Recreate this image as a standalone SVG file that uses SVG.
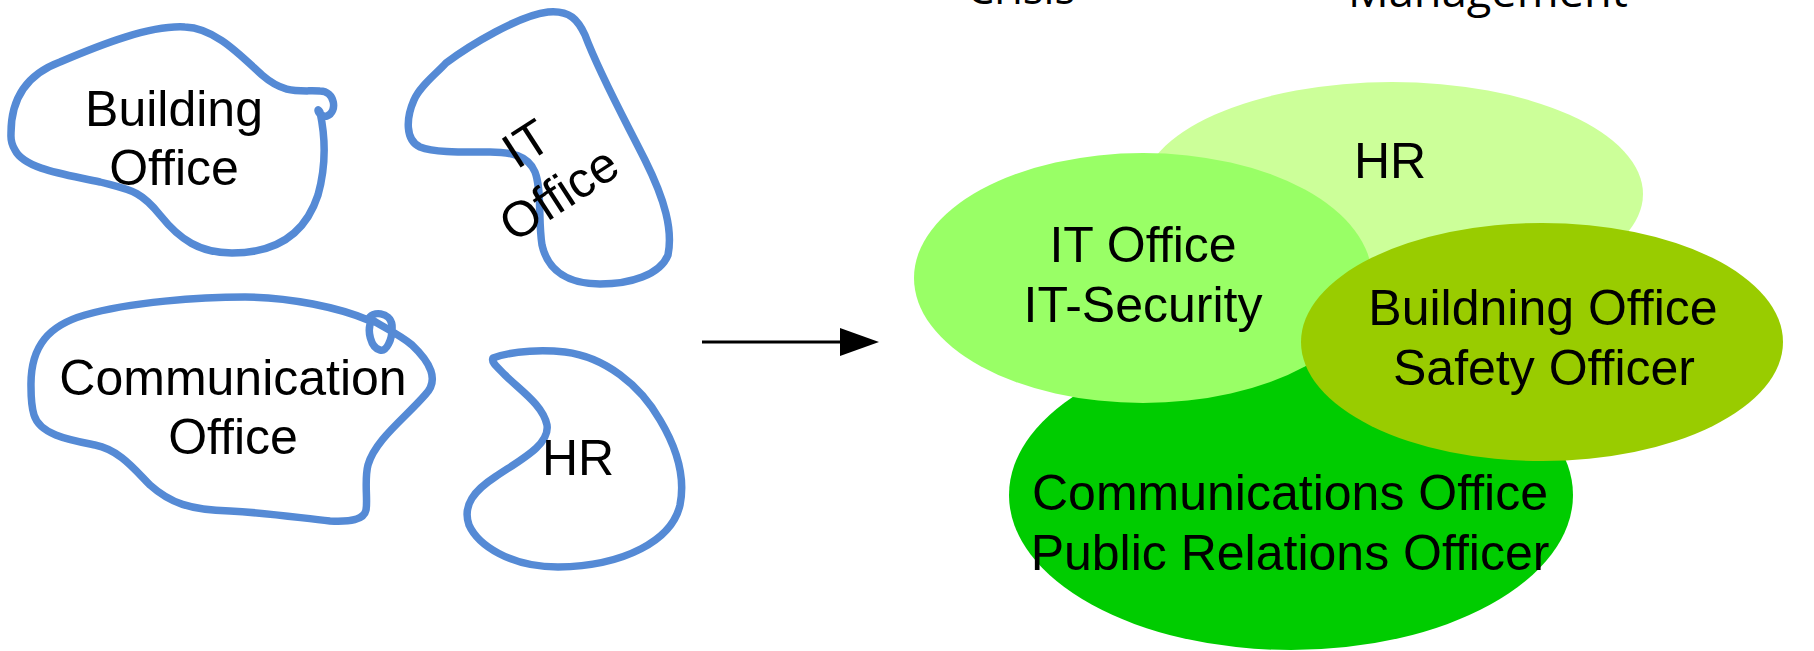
<svg xmlns="http://www.w3.org/2000/svg" width="1814" height="651" viewBox="0 0 1814 651">
<defs>
<style>
.blob{fill:none;stroke:#558AD5;stroke-width:7.5;stroke-linejoin:round;stroke-linecap:round}
.t{font-family:"Liberation Sans",Arial,sans-serif;font-size:50px;fill:#000;text-anchor:middle}
.top{font-family:"Open Sans","DejaVu Sans",sans-serif;font-size:44px;fill:#000}
</style>
<marker id="ah" viewBox="0 0 39 28" refX="0" refY="14" markerWidth="39" markerHeight="28" markerUnits="userSpaceOnUse" orient="auto">
<path d="M0,0 L39,14 L0,28 Z" fill="#000"/>
</marker>
</defs>
<rect width="1814" height="651" fill="#fff"/>

<g id="title">
<text class="top" x="967" y="4" textLength="108" lengthAdjust="spacingAndGlyphs">Crisis</text>
<text class="top" x="1348" y="7" textLength="280" lengthAdjust="spacingAndGlyphs">Management</text>
</g>

<g id="building-office-blob">
<path class="blob" d="M11,133 C11,100 25,75 60,62 C100,45 150,25 185,27 C215,28 240,55 262,75 C285,95 300,90 320,91 C335,91 338,112 327,116 C318,118 316,105 320,112 C326,140 325,170 318,195 C305,235 275,253 232,253 C200,253 180,240 160,215 C140,190 130,190 100,182 C70,175 25,170 15,150 C10,142 11,138 11,133 Z"/>
<text class="t" x="174" y="126">Building</text>
<text class="t" x="174" y="185">Office</text>
</g>

<g id="it-office-blob">
<path class="blob" d="M446,63 C470,45 520,15 548,12 C570,10 578,20 585,35 C600,75 625,120 645,160 C665,200 673,230 668,255 C660,275 630,284 600,284 C570,284 548,272 542,245 C538,220 542,190 535,172 C528,155 510,152 490,152 C465,152 435,153 420,147 C405,140 406,118 414,100 C420,86 435,75 446,63 Z"/>
<g transform="translate(542,168) rotate(-33)">
<text class="t" x="0" y="-12">IT</text>
<text class="t" x="0" y="48">Office</text>
</g>
</g>

<g id="communication-office-blob">
<path class="blob" d="M31,387 C30,345 50,325 85,315 C130,302 200,297 245,297 C290,297 340,308 368,320 C372,310 390,312 392,325 C393,340 386,352 380,350 C371,348 366,330 372,320 C385,328 400,335 412,345 C430,362 440,380 425,395 C405,418 375,440 368,465 C364,480 368,500 366,510 C364,520 350,522 330,521 C300,518 270,513 230,511 C190,510 170,503 150,485 C135,470 120,450 95,445 C70,440 40,435 34,415 C31,405 31,395 31,387 Z"/>
<text class="t" x="233" y="395">Communication</text>
<text class="t" x="233" y="454">Office</text>
</g>

<g id="hr-blob">
<path class="blob" d="M493,358 C515,350 545,350 565,352 C605,357 640,385 660,420 C678,450 685,480 680,505 C672,540 625,566 558,567 C510,567 478,545 469,525 C462,505 475,490 495,477 C520,460 550,445 547,425 C543,405 520,390 505,375 C496,366 491,362 493,358 Z"/>
<text class="t" x="578" y="475">HR</text>
</g>

<g id="connectors">
<line x1="702" y1="342" x2="840" y2="342" stroke="#000" stroke-width="3" marker-end="url(#ah)"/>
</g>

<g id="hr-ellipse">
<ellipse cx="1392" cy="194" rx="251" ry="112" fill="#CCFF99"/>
<text class="t" x="1390" y="178">HR</text>
</g>
<g id="communications-ellipse">
<ellipse cx="1291" cy="495" rx="282" ry="155" fill="#00CC00"/>
</g>
<g id="it-ellipse">
<ellipse cx="1143" cy="278" rx="229" ry="125" fill="#99FF66"/>
<text class="t" x="1143" y="262">IT Office</text>
<text class="t" x="1143" y="322">IT-Security</text>
</g>
<g id="building-ellipse">
<ellipse cx="1542" cy="342" rx="241" ry="119" fill="#99CC00"/>
<text class="t" x="1543" y="325">Buildning Office</text>
<text class="t" x="1544" y="385">Safety Officer</text>
</g>
<g id="communications-text">
<text class="t" x="1290" y="510">Communications Office</text>
<text class="t" x="1290" y="570">Public Relations Officer</text>
</g>
</svg>
